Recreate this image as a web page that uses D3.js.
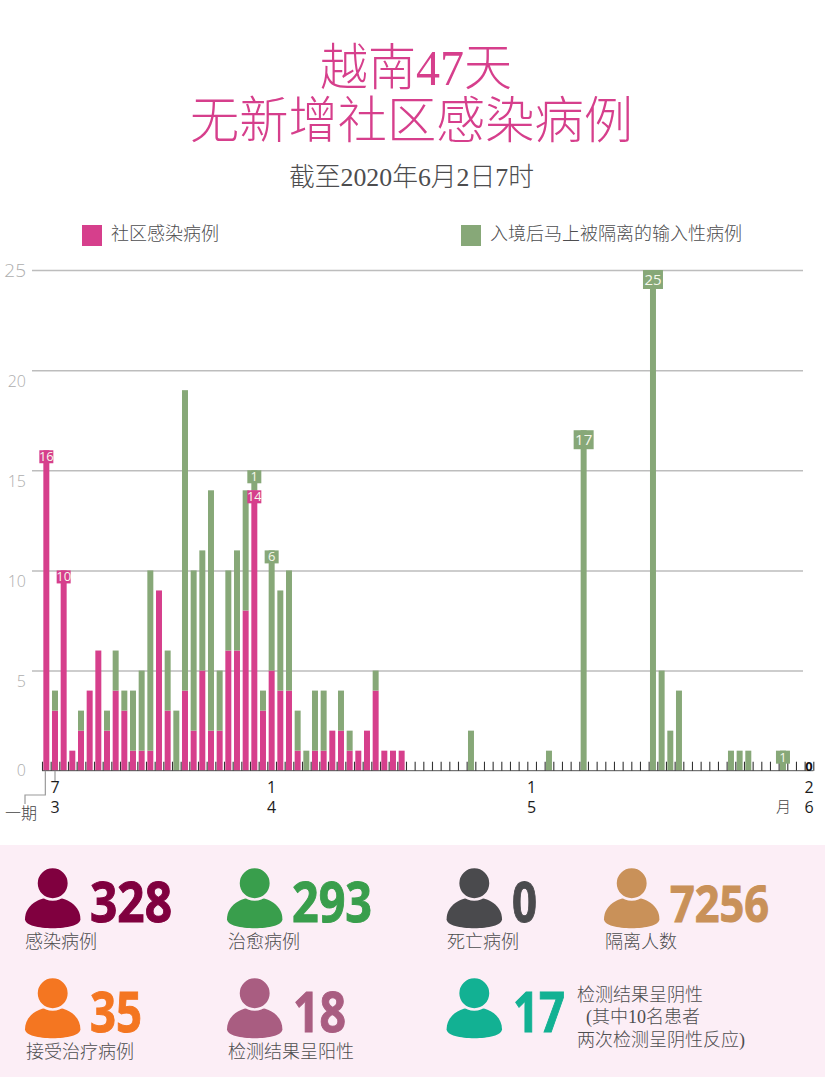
<!DOCTYPE html>
<html lang="zh">
<head>
<meta charset="utf-8">
<title>越南47天无新增社区感染病例</title>
<script src="https://cdn.jsdelivr.net/npm/d3@7"></script>
<style>
  html, body { margin: 0; padding: 0; background: #fff; }
  svg { display: block; }
  text { font-family: "Liberation Serif", "Noto Sans CJK SC", serif; }
</style>
</head>
<body>
<svg id="chart" width="831" height="1082"></svg>
<script>
// Daily cases from 6 March to 2 June 2020
const communityCases = [
  16, 3, 10, 1, 2, 4, 6, 2, 4, 3, 1, 1, 1, 9, 3, 0, 4, 2, 5, 2, 2,
  6, 6, 8, 14, 3, 5, 4, 4, 1, 0, 1, 1, 2, 2, 1, 1, 2, 4, 1, 1, 1,
  0, 0, 0, 0, 0, 0, 0, 0, 0, 0, 0, 0, 0, 0, 0, 0, 0, 0, 0, 0, 0, 0,
  0, 0, 0, 0, 0, 0, 0, 0, 0, 0, 0, 0, 0, 0, 0, 0, 0, 0, 0, 0, 0, 0, 0, 0, 0
];
const importedCases = [
  0, 1, 0, 0, 1, 0, 0, 1, 2, 1, 3, 4, 9, 0, 3, 3, 15, 8, 6, 12, 3,
  4, 5, 6, 1, 1, 6, 5, 6, 2, 1, 3, 3, 0, 2, 1, 0, 0, 1, 0, 0, 0,
  0, 0, 0, 0, 0, 0, 0, 2, 0, 0, 0, 0, 0, 0, 0, 0, 1, 0, 0, 0, 17, 0,
  0, 0, 0, 0, 0, 0, 25, 5, 2, 4, 0, 0, 0, 0, 0, 1, 1, 1, 0, 0, 0, 1, 0, 0, 0
];
const yTicks = [0, 5, 10, 15, 20, 25];
const dateDays = [1, 26, 56, 88];
const dateTop = ["7", "1", "1", "2"];
const dateBottom = ["3", "4", "5", "6"];

// Callouts: day index, which segment's value is stated
const communityCallouts = [0, 2, 24];
const importedCallouts = [24, 26, 62, 70, 85];
const largeCallouts = [62, 70];

const summaryValues = ["328", "293", "0", "7256", "35", "18", "17"];
const summaryNames = ["感染病例", "治愈病例", "死亡病例", "隔离人数", "接受治疗病例", "检测结果呈阳性", ""];
const summaryColors = ["#80003f", "#399e4c", "#4a4a4d", "#c99159", "#f47621", "#a95d81", "#12b193"];
const negativeNote = ["检测结果呈阴性", "(其中10名患者", "两次检测呈阴性反应)"];

const PINK = "#d63f8c", GREEN = "#87a878", PANEL = "#fceef6", INK = "#4d4d4f";

const svg = d3.select("#chart");

// Heading
const heading = svg.append("g").attr("fill", PINK).attr("font-weight", 300);
heading.append("text").attr("x", 320).attr("y", 85).attr("font-size", 50)
  .attr("textLength", 192).attr("lengthAdjust", "spacingAndGlyphs").text("越南47天");
heading.append("text").attr("x", 190).attr("y", 138).attr("font-size", 50)
  .attr("textLength", 443).attr("lengthAdjust", "spacingAndGlyphs").text("无新增社区感染病例");
svg.append("text").attr("x", 289).attr("y", 186).attr("font-size", 26).attr("font-weight", 300)
  .attr("fill", INK).attr("textLength", 245).attr("lengthAdjust", "spacingAndGlyphs")
  .text("截至2020年6月2日7时");

// Legend
const legend = svg.append("g").selectAll("g")
  .data([
    { x: 82, color: PINK, label: "社区感染病例" },
    { x: 461, color: GREEN, label: "入境后马上被隔离的输入性病例" }
  ])
  .join("g").attr("transform", d => `translate(${d.x},225)`);
legend.append("rect").attr("width", 20).attr("height", 21).attr("fill", d => d.color);
legend.append("text").attr("x", 29).attr("y", 15).attr("font-size", 18).attr("font-weight", 300)
  .attr("fill", INK).text(d => d.label);

// Scales
const days = d3.range(communityCases.length);
const x = d3.scaleBand().domain(days).range([42, 813.3]).paddingInner(0.31).paddingOuter(0.155);
const xEdge = d3.scaleLinear().domain([0, days.length]).range([42, 813.3]);
const y = d3.scaleLinear().domain([0, 25]).range([770.7, 270]);
const xMid = d => x(d) + x.bandwidth() / 2;

// Value axis with gridlines
const yAxis = svg.append("g").attr("transform", "translate(32,0)")
  .call(d3.axisLeft(y).tickValues(yTicks).tickSize(-771).tickPadding(6));
yAxis.select(".domain").remove();
yAxis.selectAll(".tick line").attr("stroke", "#bdbdbd").attr("stroke-width", 1.5)
  .filter(d => d === 0).remove();
yAxis.selectAll(".tick text")
  .attr("fill", "#adadad").attr("font-weight", 300)
  .attr("font-size", d => d === 25 ? 19 : 16)
  .attr("dy", d => d === 25 ? "0.36em" : d === 0 ? "0.3em" : "1.02em")
  .style("font-family", "'Open Sans', sans-serif");

// Stacked daily bars
const bars = svg.append("g");
bars.selectAll(".community").data(days).join("rect").attr("class", "community")
  .attr("x", d => x(d)).attr("width", x.bandwidth())
  .attr("y", d => y(communityCases[d]))
  .attr("height", d => y(0) - y(communityCases[d]))
  .attr("fill", PINK);
bars.selectAll(".imported").data(days).join("rect").attr("class", "imported")
  .attr("x", d => x(d)).attr("width", x.bandwidth())
  .attr("y", d => y(communityCases[d] + importedCases[d]))
  .attr("height", d => y(communityCases[d]) - y(communityCases[d] + importedCases[d]))
  .attr("fill", GREEN);

// Day axis: one tick between each pair of days
const xAxis = svg.append("g").attr("transform", `translate(0,${y(0)})`)
  .call(d3.axisBottom(xEdge).tickValues(d3.range(days.length + 1)).tickSize(-9).tickFormat(""));
xAxis.select(".domain").attr("d", `M${xEdge(0)},0H${xEdge(days.length)}`)
  .attr("stroke", "#555").attr("stroke-width", 1);
xAxis.selectAll(".tick line").attr("stroke", "#333").attr("stroke-width", 1.1);

// Stacked date labels, day above month
const dateLabels = svg.append("g").attr("fill", "#1c1c1c").attr("text-anchor", "middle")
  .attr("font-size", 16);
dateLabels.selectAll(".d").data(dateDays).join("text")
  .attr("x", d => xMid(d)).attr("y", 792.5).text((d, i) => dateTop[i])
  .style("font-family", "'Open Sans', sans-serif");
dateLabels.selectAll(".m").data(dateDays).join("text")
  .attr("x", d => xMid(d)).attr("y", 812.5).text((d, i) => dateBottom[i])
  .style("font-family", "'Open Sans', sans-serif");
svg.append("text").attr("x", 776).attr("y", 812).attr("font-size", 15).attr("fill", "#444")
  .attr("font-weight", 300).text("月");

// Closing zero for the final day
svg.append("text").attr("x", xMid(days.length - 1)).attr("y", 771).attr("text-anchor", "middle")
  .attr("font-size", 13).attr("font-weight", 700).attr("fill", "#111")
  .style("font-family", "'Open Sans', sans-serif")
  .text(communityCases[days.length - 1] + importedCases[days.length - 1]);

// Leader lines below the axis
svg.append("path")
  .attr("d", `M${xMid(1)},${y(0)}V781M${xMid(0) - 1},${y(0)}V795H25V804`)
  .attr("fill", "none").attr("stroke", "#9a9a9a").attr("stroke-width", 1.2);
svg.append("text").attr("x", 5).attr("y", 819).attr("font-size", 16).attr("font-weight", 300)
  .attr("fill", "#444").text("一期");

// Value callouts sitting on the bars
function callout(dayList, color, topOf, valueOf, large) {
  const g = svg.append("g").selectAll("g").data(dayList).join("g")
    .attr("transform", d => `translate(${xMid(d)},${topOf(d)})`);
  const w = d => large(d) ? 20 : 14, h = d => large(d) ? 19 : 13;
  g.append("rect").attr("x", d => -w(d) / 2).attr("y", 0).attr("width", w).attr("height", h).attr("fill", color);
  g.append("text").attr("text-anchor", "middle").attr("y", d => large(d) ? 14.5 : 11)
    .attr("font-size", d => large(d) ? 15 : 13).attr("fill", "#f6f8ec")
    .style("font-family", "'Open Sans', sans-serif")
    .text(valueOf);
}
const isLarge = d => largeCallouts.includes(d);
callout(communityCallouts, PINK, d => y(communityCases[d]), d => communityCases[d], isLarge);
callout(importedCallouts, GREEN, d => y(communityCases[d] + importedCases[d]), d => importedCases[d], isLarge);

// Summary panel
svg.append("rect").attr("x", 0).attr("y", 845).attr("width", 825).attr("height", 232).attr("fill", PANEL);

const iconX = [52.7, 254.7, 474.3, 631.7, 52.7, 254.7, 474.3];
const iconY = [883.3, 883.3, 883.3, 883.3, 993.3, 993.3, 993.3];
const numLeft = [90, 292, 512, 670, 90, 293, 513];
const numWidth = [82, 80, 25, 99, 52, 53, 52];
const numSize = [56, 56, 56, 50, 56, 56, 56];
const nameX = [25, 228, 447, 605, 26, 228, 0];
const personBody = "M-27.7,36C-27.7,22,-14,14,0,14C14,14,27.7,22,27.7,36C27.7,42,14,45,0,45C-14,45,-27.7,42,-27.7,36Z";

const cards = svg.append("g").selectAll("g").data(summaryValues).join("g");
cards.append("path").attr("transform", (d, i) => `translate(${iconX[i]},${iconY[i]})`)
  .attr("d", personBody).attr("fill", (d, i) => summaryColors[i]);
cards.append("circle").attr("cx", (d, i) => iconX[i]).attr("cy", (d, i) => iconY[i]).attr("r", 16.2)
  .attr("fill", (d, i) => summaryColors[i]).attr("stroke", PANEL).attr("stroke-width", 2.5);
cards.append("text").attr("x", (d, i) => numLeft[i]).attr("y", (d, i) => iconY[i] + 38.4)
  .attr("font-size", (d, i) => numSize[i]).attr("font-weight", 700)
  .attr("fill", (d, i) => summaryColors[i])
  .attr("stroke", (d, i) => summaryColors[i]).attr("stroke-width", 1)
  .attr("textLength", (d, i) => numWidth[i]).attr("lengthAdjust", "spacingAndGlyphs")
  .style("font-family", "'Open Sans', sans-serif").text(d => d);
cards.filter((d, i) => summaryNames[i]).append("text")
  .attr("x", d => nameX[summaryValues.indexOf(d)])
  .attr("y", d => iconY[summaryValues.indexOf(d)] + 65)
  .attr("font-size", 18).attr("font-weight", 300).attr("fill", INK)
  .text(d => summaryNames[summaryValues.indexOf(d)]);

const noteX = [577, 586, 577];
svg.append("g").selectAll("text").data(negativeNote).join("text")
  .attr("x", (d, i) => noteX[i]).attr("y", (d, i) => 1000.5 + i * 22.5)
  .attr("font-size", 18).attr("font-weight", 300).attr("fill", INK)
  .text(d => d);
</script>
</body>
</html>
